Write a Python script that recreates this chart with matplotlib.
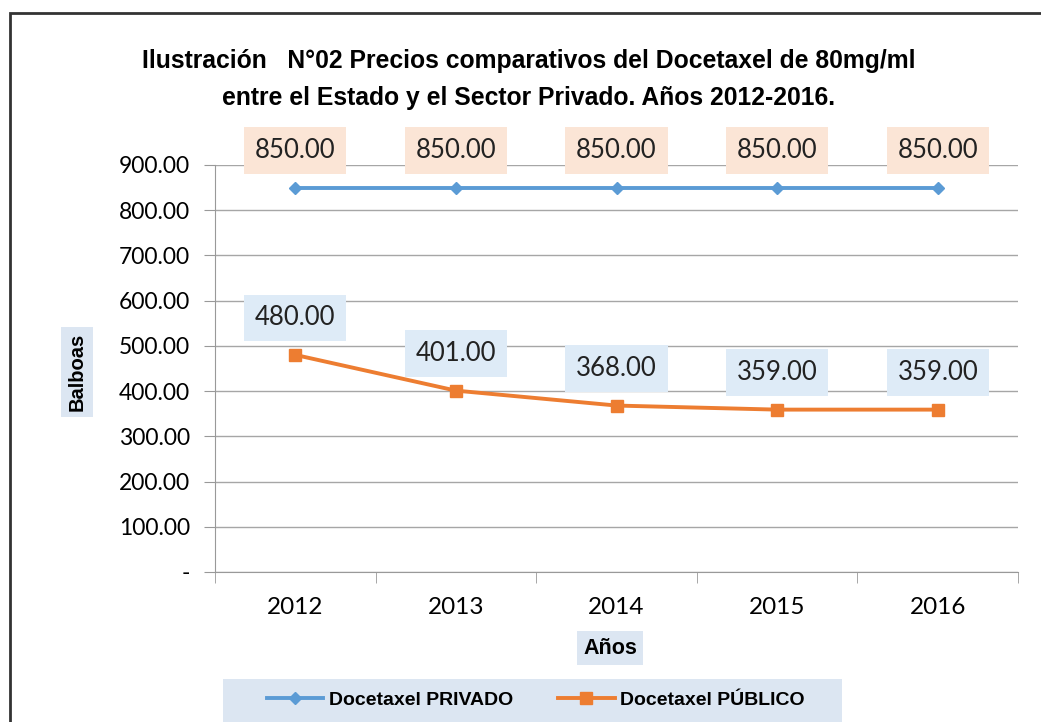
import matplotlib.pyplot as plt
from matplotlib.patches import Rectangle

anios = ['2012', '2013', '2014', '2015', '2016']
privado = [850.00, 850.00, 850.00, 850.00, 850.00]
publico = [480.00, 401.00, 368.00, 359.00, 359.00]
yticks = [0, 100, 200, 300, 400, 500, 600, 700, 800, 900]

azul = '#5B9BD5'
naranja = '#ED7D31'
fondo_azul = '#DCE6F2'

titulo_font = ['Liberation Sans', 'DejaVu Sans']
num_font = ['Lato', 'DejaVu Sans']

fig = plt.figure(figsize=(10.41, 7.22), dpi=100)
ax = fig.add_axes([0.2065, 0.2078, 0.7715, 0.5637])

x = list(range(len(anios)))
ax.plot(x, privado, color=azul, lw=2.8, marker='D', ms=6.5, label='Docetaxel PRIVADO')
ax.plot(x, publico, color=naranja, lw=2.8, marker='s', ms=9, label='Docetaxel PÚBLICO')

# etiquetas de datos
for i in x:
    ax.annotate('%.2f' % privado[i], (i, privado[i]), xytext=(0, 37), textcoords='offset pixels',
                ha='center', va='center', fontsize=18.5, family=num_font, color='#222222',
                bbox=dict(boxstyle='square,pad=0.42', fc='#FBE5D6', ec='none'))
    ax.annotate('%.2f' % publico[i], (i, publico[i]), xytext=(0, 37), textcoords='offset pixels',
                ha='center', va='center', fontsize=18.5, family=num_font, color='#222222',
                bbox=dict(boxstyle='square,pad=0.42', fc='#DEEBF7', ec='none'))

ax.set_xlim(-0.5, 4.5)
ax.set_ylim(0, 900)
ax.set_yticks(yticks)
ax.set_yticklabels(['-'] + ['%.2f' % v for v in yticks[1:]], family=num_font, fontsize=16.5)
ax.set_xticks(x)
ax.set_xticklabels(anios, family=num_font, fontsize=17.5)
ax.set_xticks([i - 0.5 for i in range(len(anios) + 1)], minor=True)
ax.tick_params(axis='x', which='major', length=0, pad=18)
ax.tick_params(axis='x', which='minor', length=8, color='#999999')
ax.tick_params(axis='y', length=8, color='#999999', pad=10)
ax.grid(axis='y', color='#A6A6A6', lw=1)
ax.set_axisbelow(True)
for s in ['top', 'right']:
    ax.spines[s].set_visible(False)
for s in ['left', 'bottom']:
    ax.spines[s].set_color('#999999')

fig.text(0.508, 0.915, 'Ilustración   N°02 Precios comparativos del Docetaxel de 80mg/ml',
         ha='center', va='center', fontsize=17.8, fontweight='bold', family=titulo_font)
fig.text(0.508, 0.864, 'entre el Estado y el Sector Privado. Años 2012-2016.',
         ha='center', va='center', fontsize=17.8, fontweight='bold', family=titulo_font)

fig.text(77 / 1041, 1 - 372 / 722, 'Balboas', rotation=90, ha='center', va='center',
         fontsize=14.5, fontweight='bold', family=titulo_font,
         bbox=dict(boxstyle='square,pad=0.3', fc=fondo_azul, ec='none'))
fig.text(610 / 1041, 1 - 648 / 722, 'Años', ha='center', va='center',
         fontsize=15.5, fontweight='bold', family=titulo_font,
         bbox=dict(boxstyle='square,pad=0.3', fc=fondo_azul, ec='none'))

# fondo de la leyenda
fig.patches.append(Rectangle((223 / 1041, 0), 619 / 1041, 43 / 722, transform=fig.transFigure,
                             fc=fondo_azul, ec='none', zorder=0))
fig.legend(loc='center', bbox_to_anchor=(536 / 1041, 1 - 700 / 722), ncol=2,
           frameon=False, prop=dict(family=titulo_font, weight='bold', size=14),
           handlelength=2.9, handletextpad=0.3, columnspacing=2.3, borderaxespad=0)

fig.patches.append(Rectangle((10 / 1041, -0.1), 1.2, 1.1 - 13 / 722, transform=fig.transFigure,
                             fill=False, ec='#333333', lw=2))

fig.savefig('out.png', dpi=100)
